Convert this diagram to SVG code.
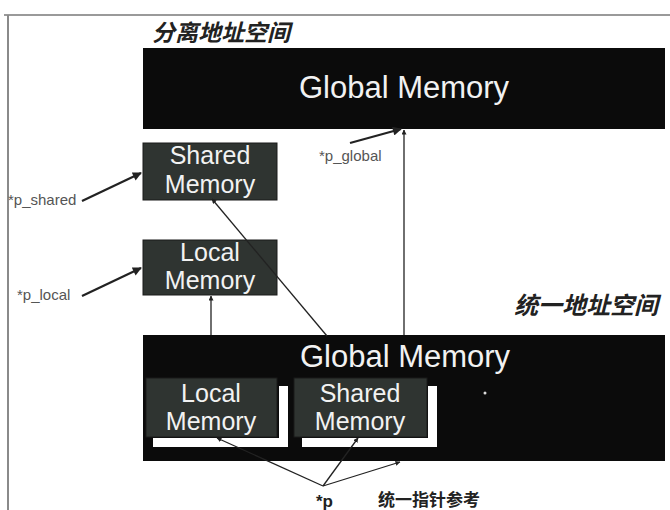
<svg xmlns="http://www.w3.org/2000/svg" width="670" height="510" viewBox="0 0 670 510">
<defs>
<style>
.big{fill:#0b0b0b}
.small{fill:#2f3431;stroke:#1a1a1a;stroke-width:1}
.wt{fill:#f2f2f2;font-family:"Liberation Sans",Arial,sans-serif;text-anchor:middle}
.lbl{fill:#555;font-family:"Liberation Sans",Arial,sans-serif;font-size:15px}
.cjk{fill:#222;font-family:"Noto Sans CJK SC",sans-serif;font-weight:bold}
.ln{stroke:#222;stroke-width:1.3;fill:none}
.ln2{stroke:#222;stroke-width:2.2;fill:none}
.shadow{fill:#fff}
</style>
<marker id="ah" viewBox="0 0 10 10" refX="9" refY="5" markerWidth="5" markerHeight="5" orient="auto" markerUnits="userSpaceOnUse">
<path d="M0,0 L10,5 L0,10 z" fill="#222"/>
</marker>
<marker id="ah2" viewBox="0 0 10 10" refX="9" refY="5" markerWidth="10" markerHeight="9" orient="auto" markerUnits="userSpaceOnUse">
<path d="M0,0 L10,5 L0,10 z" fill="#222"/>
</marker>
</defs>
<rect x="0" y="0" width="670" height="510" fill="#fff"/>
<g id="frame">
<line x1="4" y1="15" x2="670" y2="15" stroke="#9a9a9a" stroke-width="2"/>
<line x1="8" y1="15" x2="8" y2="510" stroke="#8a8a8a" stroke-width="2"/>
</g>
<text class="cjk" x="152" y="41" font-size="23" font-style="italic">分离地址空间</text>
<text class="cjk" x="514" y="314" font-size="24" font-style="italic">统一地址空间</text>

<g id="global-separate">
<rect class="big" x="143" y="48" width="522" height="81"/>
<text class="wt" x="404" y="98" font-size="31">Global Memory</text>
</g>
<g id="shared-separate">
<rect class="small" x="143" y="143" width="134" height="57"/>
<text class="wt" x="210" y="164" font-size="25">Shared</text>
<text class="wt" x="210" y="193" font-size="25">Memory</text>
</g>
<g id="local-separate">
<rect class="small" x="143" y="240" width="134" height="55"/>
<text class="wt" x="210" y="261" font-size="25">Local</text>
<text class="wt" x="210" y="289" font-size="25">Memory</text>
</g>

<g id="global-unified">
<rect class="big" x="143" y="335" width="522" height="126"/>
<text class="wt" x="405" y="367" font-size="31">Global Memory</text>
<circle cx="485" cy="393" r="1.5" fill="#ddd"/>
</g>
<g id="local-unified">
<path class="shadow" d="M279,386 H288 V447 H153 V438 H279 Z"/>
<rect class="small" x="146" y="378" width="131" height="59"/>
<text class="wt" x="211" y="402" font-size="25">Local</text>
<text class="wt" x="211" y="430" font-size="25">Memory</text>
</g>
<g id="shared-unified">
<path class="shadow" d="M428,386 H437 V447 H302 V438 H428 Z"/>
<rect class="small" x="294" y="378" width="133" height="59"/>
<text class="wt" x="360" y="402" font-size="25">Shared</text>
<text class="wt" x="360" y="430" font-size="25">Memory</text>
</g>

<g id="labels">
<text class="lbl" x="8" y="205">*p_shared</text>
<text class="lbl" x="17" y="300">*p_local</text>
<text class="lbl" x="319" y="161">*p_global</text>
<text x="316" y="507" font-family="Liberation Sans,Arial,sans-serif" font-size="17" font-weight="bold" fill="#222">*p</text>
<text class="cjk" x="378" y="506" font-size="17">统一指针参考</text>
</g>

<g id="connectors">
<line class="ln2" x1="82" y1="201" x2="141" y2="173" marker-end="url(#ah2)"/>
<line class="ln2" x1="82" y1="296" x2="141" y2="268" marker-end="url(#ah2)"/>
<line class="ln2" x1="350" y1="143" x2="401" y2="129" marker-end="url(#ah2)"/>
<line class="ln" x1="404" y1="335" x2="404" y2="130" marker-end="url(#ah)"/>
<line class="ln" x1="327" y1="336" x2="212" y2="199" marker-end="url(#ah)"/>
<line class="ln" x1="211" y1="335" x2="211" y2="296" marker-end="url(#ah)"/>
<line class="ln" x1="323" y1="486" x2="217" y2="438" marker-end="url(#ah)"/>
<line class="ln" x1="323" y1="486" x2="358" y2="438" marker-end="url(#ah)"/>
<line class="ln" x1="323" y1="486" x2="400" y2="462" marker-end="url(#ah)"/>
</g>
</svg>
